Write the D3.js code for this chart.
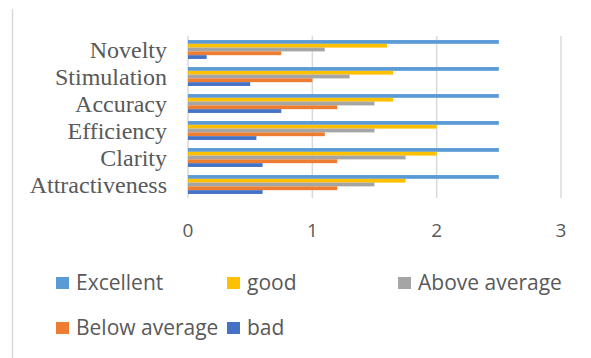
<!DOCTYPE html>
<html lang="en">
<head>
    <meta charset="utf-8">
    <title>Ratings by criterion</title>
    <script src="https://d3js.org/d3.v7.min.js"></script>
    <style>
        body { margin: 0; background: #fff; }
        .cat-label { font-family: "Liberation Serif", "Times New Roman", serif; font-size: 24px; fill: #595959; }
        .tick-label { font-family: "Open Sans", sans-serif; font-size: 19px; fill: #595959; }
        .legend text { font-family: "Open Sans", sans-serif; font-size: 21px; fill: #595959; }
    </style>
</head>
<body>
<script>
    // chart values
    var categories = ["Novelty", "Stimulation", "Accuracy", "Efficiency", "Clarity", "Attractiveness"];
    var seriesNames = ["Excellent", "good", "Above average", "Below average", "bad"];
    var excellent = [2.5, 2.5, 2.5, 2.5, 2.5, 2.5];
    var good = [1.6, 1.65, 1.65, 2.0, 2.0, 1.75];
    var aboveAverage = [1.1, 1.3, 1.5, 1.5, 1.75, 1.5];
    var belowAverage = [0.75, 1.0, 1.2, 1.1, 1.2, 1.2];
    var bad = [0.15, 0.5, 0.75, 0.55, 0.6, 0.6];
    var xTicks = [0, 1, 2, 3];

    var seriesValues = [excellent, good, aboveAverage, belowAverage, bad];
    var colors = ["#5B9BD5", "#FFC000", "#A5A5A5", "#ED7D31", "#4472C4"];

    var width = 591, height = 358;

    var svg = d3.select("body").append("svg")
        .attr("width", width)
        .attr("height", height);

    // left edge of the chart frame
    svg.append("line")
        .attr("x1", 12.5).attr("x2", 12.5)
        .attr("y1", 9).attr("y2", height)
        .attr("stroke", "#d9d9d9")
        .attr("stroke-width", 1.5);

    var x = d3.scaleLinear().domain([0, 3]).range([188, 561]);

    var y = d3.scaleBand()
        .domain(categories)
        .range([36, 198])
        .paddingInner(0.3)
        .paddingOuter(0.15);

    var ySeries = d3.scaleBand()
        .domain(seriesNames)
        .range([0, y.bandwidth()]);

    // gridlines
    svg.append("g").selectAll("line")
        .data(xTicks)
        .enter().append("line")
        .attr("x1", d => x(d)).attr("x2", d => x(d))
        .attr("y1", 36).attr("y2", 198)
        .attr("stroke", "#d9d9d9")
        .attr("stroke-width", 1.5);

    // tick labels
    svg.append("g").selectAll("text")
        .data(xTicks)
        .enter().append("text")
        .attr("class", "tick-label")
        .attr("x", d => x(d))
        .attr("y", 237)
        .attr("text-anchor", "middle")
        .text(d => d);

    // category labels
    svg.append("g").selectAll("text")
        .data(categories)
        .enter().append("text")
        .attr("class", "cat-label")
        .attr("x", 167)
        .attr("y", d => y(d) + y.bandwidth() / 2 + 8)
        .attr("text-anchor", "end")
        .text(d => d);

    // bars
    seriesNames.forEach(function(name, si) {
        svg.append("g").selectAll("rect")
            .data(categories)
            .enter().append("rect")
            .attr("x", x(0))
            .attr("y", d => y(d) + ySeries(name))
            .attr("width", (d, i) => x(seriesValues[si][i]) - x(0))
            .attr("height", ySeries.bandwidth())
            .attr("fill", colors[si]);
    });

    // legend
    var legendPos = [[56, 277], [227, 277], [398, 277], [56, 322], [227, 322]];
    var legend = svg.append("g").attr("class", "legend");
    var items = legend.selectAll("g")
        .data(seriesNames)
        .enter().append("g")
        .attr("transform", (d, i) => "translate(" + legendPos[i][0] + "," + legendPos[i][1] + ")");
    items.append("rect")
        .attr("width", 13)
        .attr("height", 12)
        .attr("fill", (d, i) => colors[i]);
    items.append("text")
        .attr("x", 20)
        .attr("y", 13)
        .text(d => d);
</script>
</body>
</html>
